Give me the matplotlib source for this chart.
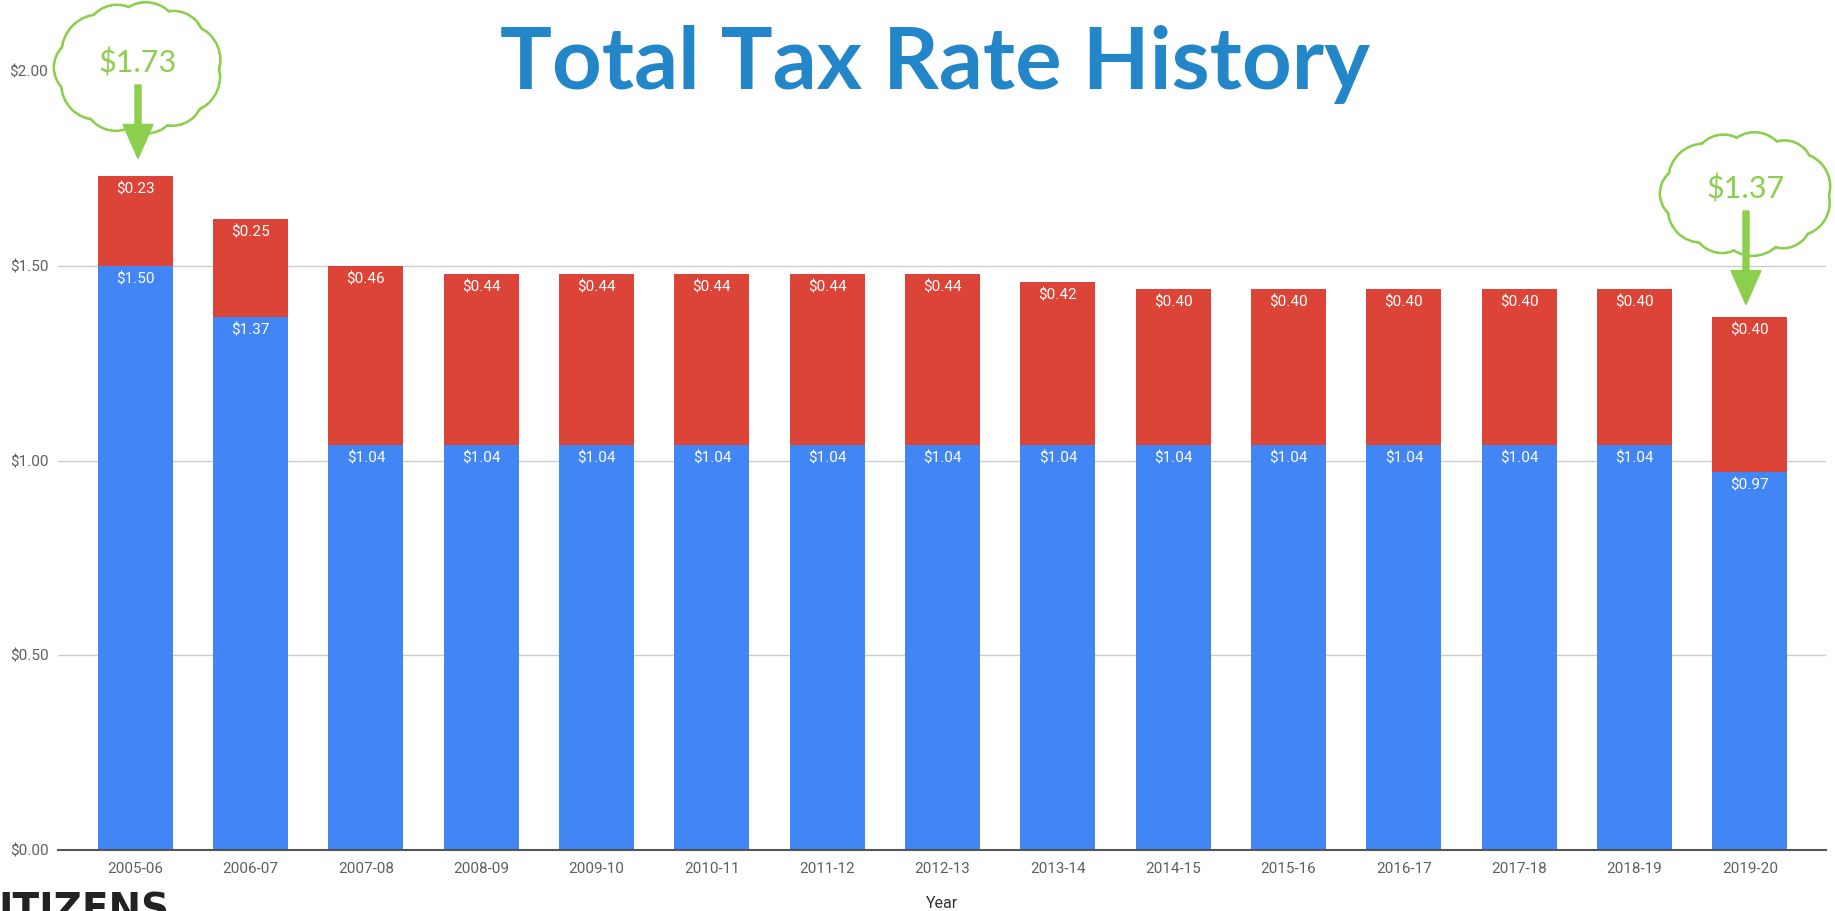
import math

import matplotlib
matplotlib.use("Agg")
import matplotlib.pyplot as plt
from matplotlib.patches import Circle, Ellipse
from matplotlib.ticker import FuncFormatter

# data
years = ["2005-06", "2006-07", "2007-08", "2008-09", "2009-10", "2010-11", "2011-12",
         "2012-13", "2013-14", "2014-15", "2015-16", "2016-17", "2017-18", "2018-19", "2019-20"]
base_rate = [1.50, 1.37, 1.04, 1.04, 1.04, 1.04, 1.04, 1.04, 1.04, 1.04, 1.04, 1.04, 1.04, 1.04, 0.97]
extra_rate = [0.23, 0.25, 0.46, 0.44, 0.44, 0.44, 0.44, 0.44, 0.42, 0.40, 0.40, 0.40, 0.40, 0.40, 0.40]
y_ticks = [0.0, 0.5, 1.0, 1.5, 2.0]

BLUE = "#4285F4"
RED = "#DB4437"
GREEN = "#8CCF4D"
TITLE_BLUE = "#2386C8"

W, H = 1835, 911
plt.rcParams["font.family"] = ["Roboto", "DejaVu Sans"]

fig = plt.figure(figsize=(W / 100, H / 100), dpi=100)
# axes box in pixels
left_px, right_px, top_px, bottom_px = 58, 1826, 71.4, 849.6
ax = fig.add_axes([left_px / W, 1 - bottom_px / H, (right_px - left_px) / W, (bottom_px - top_px) / H])

x = list(range(len(years)))
bw = 0.65
ax.bar(x, base_rate, width=bw, color=BLUE, zorder=3)
ax.bar(x, extra_rate, width=bw, bottom=base_rate, color=RED, zorder=3)

# value labels just under the top of each segment
px_per_unit = (bottom_px - top_px) / 2.0
off = 13.5 / px_per_unit
for i in x:
    b = base_rate[i]
    e = extra_rate[i]
    ax.text(i, b - off, f"${b:.2f}", ha="center", va="center", color="white", fontsize=11, zorder=4)
    ax.text(i, b + e - off, f"${e:.2f}", ha="center", va="center", color="white", fontsize=11, zorder=4)

ax.set_xlim(-0.67, len(years) - 1 + 0.66)
ax.set_ylim(0, 2.0)
ax.set_xticks(x)
ax.set_xticklabels(years)
ax.set_yticks(y_ticks)
ax.yaxis.set_major_formatter(FuncFormatter(lambda v, p: f"${v:.2f}"))
ax.tick_params(axis="both", length=0, labelsize=11, labelcolor="#5f5f5f")
ax.tick_params(axis="x", pad=9)
ax.tick_params(axis="y", pad=7)
ax.grid(axis="y", color="#cccccc", lw=1, zorder=0)
ax.yaxis.get_gridlines()[-1].set_visible(False)
ax.yaxis.get_gridlines()[0].set_visible(False)
for s in ["top", "right", "left"]:
    ax.spines[s].set_visible(False)
ax.spines["bottom"].set_color("#555555")
ax.spines["bottom"].set_linewidth(1.5)
ax.spines["bottom"].set_zorder(5)
ax.set_xlabel("Year", fontsize=11.5, color="#333333", labelpad=14)

# overlay in pixel coordinates for title, clouds and logo
ov = fig.add_axes([0, 0, 1, 1], zorder=10)
ov.set_xlim(0, W)
ov.set_ylim(H, 0)
ov.axis("off")
ov.patch.set_alpha(0)

ov.text(935, 89, "Total Tax Rate History", ha="center", va="baseline",
        fontsize=62.5, fontweight="bold", color=TITLE_BLUE, family=["Lato", "DejaVu Sans"])

ov.text(-2, 892, "ITIZENS", ha="left", va="top", fontsize=28, fontweight="bold",
        color="#222222", family=["Liberation Sans Narrow", "DejaVu Sans"])


def cloud(cx, cy, w, h, label, tip_y):
    n = 11
    factors = [1.0, 0.85, 1.05, 0.9, 1.0, 0.82, 1.08, 0.9, 0.95, 0.85, 1.0]
    r0 = 0.27 * h
    circles = []
    for k in range(n):
        a = 2 * math.pi * k / n + 0.3
        r = r0 * factors[k]
        circles.append(((cx + (w / 2 - r) * math.cos(a), cy + (h / 2 - r) * math.sin(a)), r))
    for c, r in circles:
        ov.add_patch(Circle(c, r, fill=False, ec=GREEN, lw=2.0, zorder=5))
    for c, r in circles:
        ov.add_patch(Circle(c, r - 1.3, fc="white", ec="none", zorder=6))
    ov.add_patch(Ellipse((cx, cy), w - 2 * r0 * 0.6, h - 2 * r0 * 0.6, fc="white", ec="none", zorder=6))
    ov.text(cx, cy - 5, label, ha="center", va="center", fontsize=22, color=GREEN,
            family=["Lato", "DejaVu Sans"], zorder=7)
    ov.arrow(cx, cy + 17, 0, tip_y - (cy + 17), width=6, head_width=30, head_length=34,
             length_includes_head=True, color=GREEN, zorder=8)


def y_px(v):
    return bottom_px - v * px_per_unit


first_total = base_rate[0] + extra_rate[0]
last_total = base_rate[-1] + extra_rate[-1]
cloud(138, 68, 168, 132, f"${first_total:.2f}", y_px(first_total) - 18)
cloud(1746, 194, 172, 124, f"${last_total:.2f}", y_px(last_total) - 12)

fig.savefig("out.png", dpi=100, facecolor="white")
